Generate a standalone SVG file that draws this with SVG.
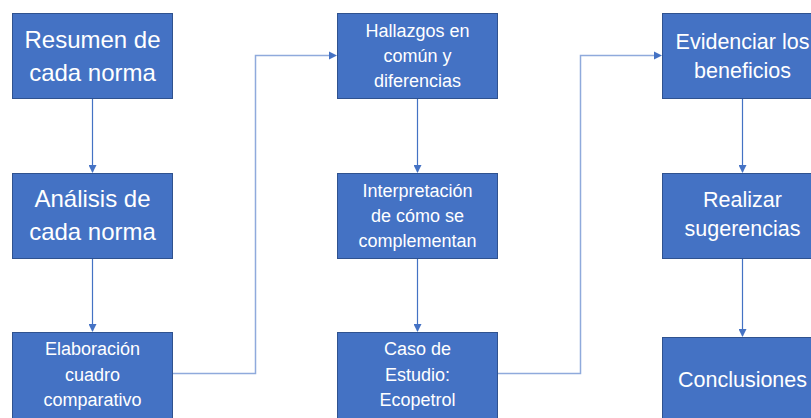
<svg xmlns="http://www.w3.org/2000/svg" width="811" height="418" viewBox="0 0 811 418">
<style>
.box{fill:#4472C4;stroke:#2F528F;stroke-width:1}
.t{font-family:"Liberation Sans",Arial,sans-serif;fill:#FFFFFF;text-anchor:middle}
.big{font-size:24px}
.mid{font-size:21.5px}
.sm{font-size:18px}
.ln{fill:none;stroke:#4472C4;stroke-width:1.2}
.el{fill:none;stroke:#8FAADC;stroke-width:1.5}
</style>
<defs>
<marker id="ah" markerWidth="8" markerHeight="8" refX="7" refY="4" orient="auto" markerUnits="userSpaceOnUse">
<path d="M0,0 L8,4 L0,8 Z" fill="#4472C4"/>
</marker>
</defs>
<rect width="811" height="418" fill="#FFFFFF"/>
<g id="connectors">
<line class="ln" x1="92.5" y1="98" x2="92.5" y2="172" marker-end="url(#ah)"/>
<line class="ln" x1="92.5" y1="258" x2="92.5" y2="331" marker-end="url(#ah)"/>
<line class="ln" x1="417.5" y1="98" x2="417.5" y2="172" marker-end="url(#ah)"/>
<line class="ln" x1="417.5" y1="258" x2="417.5" y2="331" marker-end="url(#ah)"/>
<line class="ln" x1="742.5" y1="98" x2="742.5" y2="172" marker-end="url(#ah)"/>
<line class="ln" x1="742.5" y1="258" x2="742.5" y2="336" marker-end="url(#ah)"/>
<path class="el" d="M173,373.5 H255.5 V55.5 H330"/>
<path d="M329,51.5 L337,55.5 L329,59.5 Z" fill="#4472C4"/>
<path class="el" d="M498,373.5 H580.5 V55.5 H655"/>
<path d="M654,51.5 L662,55.5 L654,59.5 Z" fill="#4472C4"/>
</g>
<g id="n1">
<rect class="box" x="12.5" y="13.5" width="160" height="85"/>
<text class="t big" x="92.5" y="48">Resumen de</text>
<text class="t big" x="92.5" y="81">cada norma</text>
</g>
<g id="n2">
<rect class="box" x="12.5" y="173.5" width="160" height="85"/>
<text class="t big" x="92.5" y="207">Análisis de</text>
<text class="t big" x="92.5" y="240">cada norma</text>
</g>
<g id="n3">
<rect class="box" x="12.5" y="332.5" width="160" height="95"/>
<text class="t sm" x="92.5" y="355">Elaboración</text>
<text class="t sm" x="92.5" y="381">cuadro</text>
<text class="t sm" x="92.5" y="406">comparativo</text>
</g>
<g id="n4">
<rect class="box" x="337.5" y="13.5" width="160" height="85"/>
<text class="t sm" x="417.5" y="37">Hallazgos en</text>
<text class="t sm" x="417.5" y="62">común y</text>
<text class="t sm" x="417.5" y="87">diferencias</text>
</g>
<g id="n5">
<rect class="box" x="337.5" y="173.5" width="160" height="85"/>
<text class="t sm" x="417.5" y="197">Interpretación</text>
<text class="t sm" x="417.5" y="222">de cómo se</text>
<text class="t sm" x="417.5" y="247">complementan</text>
</g>
<g id="n6">
<rect class="box" x="337.5" y="332.5" width="160" height="95"/>
<text class="t sm" x="417.5" y="355">Caso de</text>
<text class="t sm" x="417.5" y="381">Estudio:</text>
<text class="t sm" x="417.5" y="406">Ecopetrol</text>
</g>
<g id="n7">
<rect class="box" x="662.5" y="13.5" width="160" height="85"/>
<text class="t mid" x="742.5" y="49">Evidenciar los</text>
<text class="t mid" x="742.5" y="78">beneficios</text>
</g>
<g id="n8">
<rect class="box" x="662.5" y="173.5" width="160" height="85"/>
<text class="t mid" x="742.5" y="207">Realizar</text>
<text class="t mid" x="742.5" y="236">sugerencias</text>
</g>
<g id="n9">
<rect class="box" x="662.5" y="337.5" width="160" height="95"/>
<text class="t mid" x="742.5" y="387">Conclusiones</text>
</g>
</svg>
